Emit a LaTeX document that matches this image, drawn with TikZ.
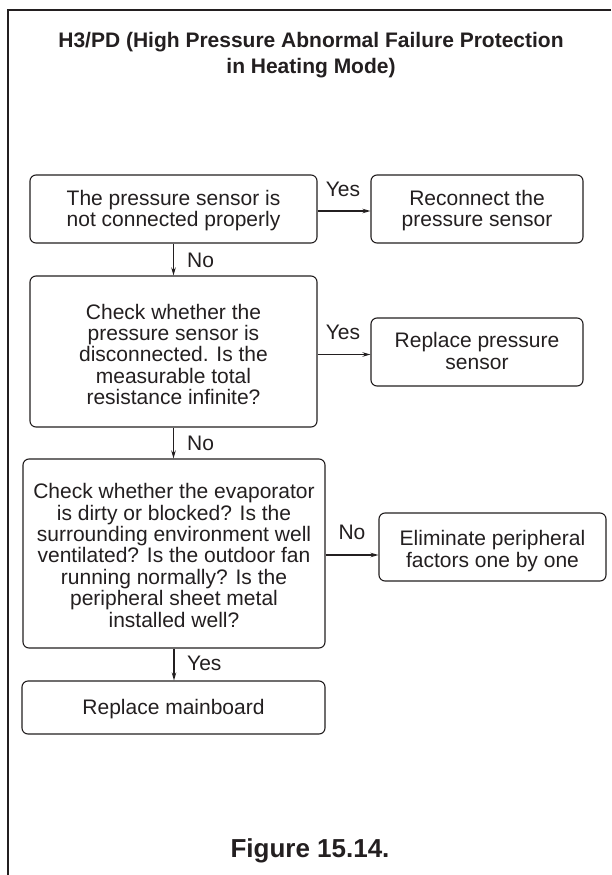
\documentclass[tikz,border=0pt]{standalone}
\usepackage{fontspec}
\setmainfont{Liberation Sans}
\usetikzlibrary{arrows.meta}
\definecolor{ink}{RGB}{35,31,32}
\begin{document}
\begin{tikzpicture}[x=1pt,y=-1pt,
  every node/.style={text=ink},
  box/.style={draw=ink, line width=1.1pt, rounded corners=6pt, inner sep=0pt},
  txt/.style={align=center, inner sep=0pt, font=\fontsize{21}{21.4}\selectfont,
    execute at begin node={\rule{0pt}{17.5pt}},
    execute at end node={\rule[-4.5pt]{0pt}{4.5pt}}},
  lbl/.style={font=\fontsize{21}{21.4}\selectfont, inner sep=0pt},
  conn/.style={draw=ink, line width=1.1pt, -{Stealth[length=8pt,width=4.5pt]}}]
\useasboundingbox (0,0) rectangle (611,875);
\fill[white] (0,0) rectangle (611,875);
% frame
\draw[ink, line width=1.3pt] (611,10) -- (8,10) -- (8,875);
% title
\node[align=center, font=\bfseries\fontsize{21}{26}\selectfont, inner sep=0pt] (title) at (311,55)
  {H3/PD (High Pressure Abnormal Failure Protection\\in Heating Mode)};
% boxes
\node[box, minimum width=287pt, minimum height=68pt] (b1) at (173.5,209) {};
\node[txt] (b1t) at (173.5,210.5) {The pressure sensor is\\not connected properly};
\node[box, minimum width=212pt, minimum height=68pt] (r1) at (477,209) {};
\node[txt] (r1t) at (477,210.5) {Reconnect the\\pressure sensor};
\node[box, minimum width=287pt, minimum height=151pt] (b2) at (173.5,351.5) {};
\node[txt] (b2t) at (173.5,356.5)
  {Check whether the\\pressure sensor is\\disconnected. Is the\\measurable total\\resistance infinite?};
\node[box, minimum width=212pt, minimum height=68pt] (r2) at (477,352) {};
\node[txt] (r2t) at (477,353) {Replace pressure\\sensor};
\node[box, minimum width=302pt, minimum height=189pt] (b3) at (174,553.5) {};
\node[txt] (b3t) at (174,557.5)
  {Check whether the evaporator\\is dirty or blocked? Is the\\surrounding environment well\\ventilated? Is the outdoor fan\\running normally? Is the\\peripheral sheet metal\\installed well?};
\node[box, minimum width=227pt, minimum height=68pt] (r3) at (492.5,547) {};
\node[txt] (r3t) at (492.5,551) {Eliminate peripheral\\factors one by one};
\node[box, minimum width=303pt, minimum height=53pt] (b4) at (173.5,707.5) {};
\node[txt] (b4t) at (173.5,708) {Replace mainboard};
% connectors
\draw[conn] ([yshift=-2pt]b1.east) -- ([yshift=-2pt]b1.east -| r1.west);
\draw[conn] ([yshift=-3pt]b2.east) -- ([yshift=-3pt]b2.east -| r2.west);
\draw[conn] ([yshift=-1.5pt]b3.east) -- ([yshift=-1.5pt]b3.east -| r3.west);
\draw[conn] (b1.south) -- (b2.north);
\draw[conn] (b2.south) -- (b2.south |- b3.north);
\draw[conn] (b3.south) -- (b3.south |- b4.north);
% labels
\node[lbl] (y1) at (343,189) {Yes};
\node[lbl] (y2) at (343,332) {Yes};
\node[lbl] (n3) at (352,532) {No};
\node[lbl, anchor=west] (n1) at (187,260) {No};
\node[lbl, anchor=west] (n2) at (187,443) {No};
\node[lbl, anchor=west] (y3) at (187,663) {Yes};
% caption
\node[font=\bfseries\fontsize{26}{30}\selectfont, inner sep=0pt] (cap) at (310,851) {Figure 15.14.};
\end{tikzpicture}
\end{document}
